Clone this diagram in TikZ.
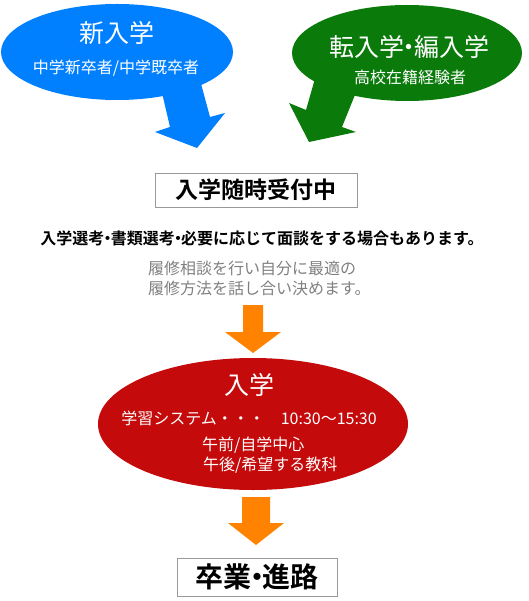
\documentclass[tikz,border=0pt]{standalone}
\usepackage{fontspec}
\setmainfont{Noto Sans CJK JP}[BoldFont={Noto Sans CJK JP Bold}]
\usetikzlibrary{shapes.geometric}
\definecolor{newblue}{RGB}{0,128,255}
\definecolor{transgreen}{RGB}{10,122,10}
\definecolor{entryred}{RGB}{196,10,10}
\definecolor{flowarrow}{RGB}{255,130,0}
\newcommand{\narrowdot}{\hspace{-0.3em}・\hspace{-0.3em}}
\tikzset{
  bubble/.style={ellipse,inner sep=0pt},
  whitetxt/.style={text=white,inner sep=0pt},
  stepbox/.style={draw=gray!80,fill=white,inner sep=0pt},
  fs/.style={font=\fontsize{#1}{#1}\selectfont},
  fsb/.style={font=\fontsize{#1}{#1}\selectfont\bfseries}
}
\begin{document}
\begin{tikzpicture}[x=1pt,y=-1pt]
\useasboundingbox (0,0) rectangle (528,601);

% two starting points
\node[bubble,fill=newblue,minimum width=232pt,minimum height=96pt] (newin) at (117,52) {};
\fill[newblue] (159,80) -- (170,127) -- (155,132) -- (197,148) -- (225,113) -- (210,117) -- (200,80) -- cycle;
\node[whitetxt,fs=25] (newtitle) at (117,33) {新入学};
\node[whitetxt,fs=16] (newsub) at (116,68) {中学新卒者/中学既卒者};

\node[bubble,fill=transgreen,minimum width=230pt,minimum height=96pt] (transin) at (407,53) {};
\fill[transgreen] (316,75) -- (306,110) -- (289,103) -- (309,142) -- (356,132) -- (342,127) -- (363,75) -- cycle;
\node[whitetxt,fs=25] (transtitle) at (409,47) {転入学\narrowdot 編入学};
\node[whitetxt,fs=16] (transsub) at (410,77) {高校在籍経験者};

% reception
\node[stepbox,fsb=23,minimum width=202pt,minimum height=34pt] (accept) at (256,190) {入学随時受付中};
\node[inner sep=0pt,fsb=16] (select) at (262,238)
  {入学選考\narrowdot 書類選考\narrowdot 必要に応じて面談をする場合もあります。};
\node[inner sep=0pt,fs=16,text=gray,align=left,anchor=west] (consult) at (148,278)
  {履修相談を行い自分に最適の\\[4pt]履修方法を話し合い決めます。};

\fill[flowarrow] (243,305) -- (263,305) -- (263,332) -- (281,332) -- (253,353) -- (225,332) -- (243,332) -- cycle;

% entry
\node[bubble,fill=entryred,minimum width=310pt,minimum height=132pt] (entry) at (253,424) {};
\node[whitetxt,fs=25] (entrytitle) at (249,385) {入学};
\node[whitetxt,fs=16] (system) at (249,418) {学習システム・・・\quad 10:30～15:30};
\node[whitetxt,fs=16,anchor=west] (morning) at (202,445) {午前/自学中心};
\node[whitetxt,fs=16,anchor=west] (afternoon) at (203,465) {午後/希望する教科};

\fill[flowarrow] (242,497) -- (270,497) -- (270,523) -- (284,523) -- (256,545) -- (228,523) -- (242,523) -- cycle;

\node[stepbox,fsb=28,minimum width=160pt,minimum height=38pt] (career) at (257,577) {卒業\narrowdot 進路};
\end{tikzpicture}
\end{document}
